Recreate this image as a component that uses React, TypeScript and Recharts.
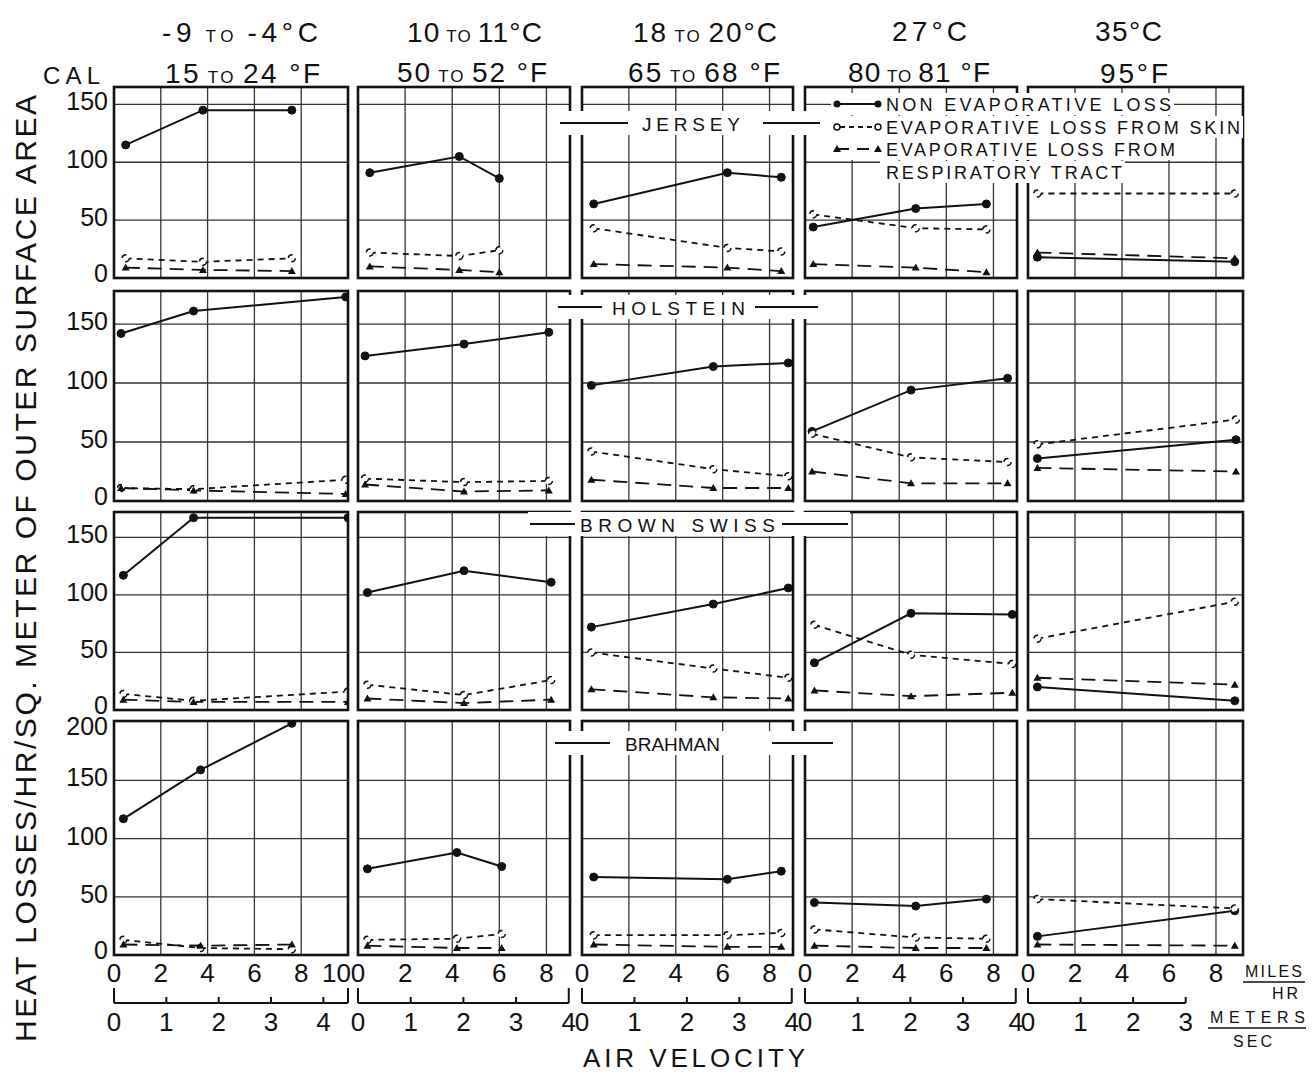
import React from "react";
import { LineChart, Line, XAxis, YAxis, CartesianGrid } from "recharts";

// column headers (temperature ranges)
const tempC = [["-9", "-4"], ["10", "11"], ["18", "20"], ["27"], ["35"]];
const tempF = [["15", "24"], ["50", "52"], ["65", "68"], ["80", "81"], ["95"]];

const breeds = ["JERSEY", "HOLSTEIN", "BROWN SWISS", "BRAHMAN"];

// air velocity (miles/hr) of each measurement, one list per temperature column
const jerseyVelocity = [[0.5, 3.8, 7.6], [0.5, 4.3, 6.0], [0.5, 6.2, 8.5], [0.35, 4.7, 7.7], [0.4, 8.8]];
const jerseyNonEvap = [[115, 145, 145], [91, 105, 86], [64, 91, 87], [44, 60, 64], [18, 14]];
const jerseySkin = [[17, 14, 17], [22, 19, 24], [43, 26, 23], [55, 43, 42], [73, 73]];
const jerseyResp = [[9, 7, 6], [10, 7, 5], [12, 9, 6], [12, 9, 5], [22, 17]];

const holsteinVelocity = [[0.3, 3.4, 9.9], [0.3, 4.5, 8.1], [0.4, 5.6, 8.8], [0.3, 4.5, 8.6], [0.4, 8.85]];
const holsteinNonEvap = [[142, 161, 173], [123, 133, 143], [98, 114, 117], [59, 94, 104], [36, 52]];
const holsteinSkin = [[11, 10, 18], [19, 16, 17], [42, 27, 21], [57, 37, 33], [48, 69]];
const holsteinResp = [[11, 9, 6], [14, 8, 9], [18, 11, 11], [25, 15, 15], [28, 25]];

const brownSwissVelocity = [[0.4, 3.4, 10], [0.4, 4.5, 8.2], [0.4, 5.6, 8.8], [0.4, 4.5, 8.8], [0.4, 8.8]];
const brownSwissNonEvap = [[117, 167, 167], [102, 121, 111], [72, 92, 106], [41, 84, 83], [20, 8]];
const brownSwissSkin = [[14, 8, 16], [22, 13, 26], [50, 36, 28], [74, 48, 40], [62, 94]];
const brownSwissResp = [[9, 7, 7], [10, 6, 9], [18, 11, 10], [17, 12, 15], [28, 22]];

const brahmanVelocity = [[0.4, 3.7, 7.6], [0.4, 4.2, 6.1], [0.5, 6.2, 8.5], [0.4, 4.7, 7.7], [0.4, 8.8]];
const brahmanNonEvap = [[117, 159, 199], [74, 88, 76], [67, 65, 72], [45, 42, 48], [16, 38]];
const brahmanSkin = [[13, 6, 5], [13, 14, 18], [17, 17, 19], [22, 15, 14], [48, 40]];
const brahmanResp = [[9, 8, 9], [8, 6, 6], [9, 7, 7], [8, 6, 6], [9, 8]];

// tick labels
const mphTicksWide = [0, 2, 4, 6, 8, 10];
const mphTicks = [0, 2, 4, 6, 8];
const msTicks = [[0, 1, 2, 3, 4, 4.47], [0, 1, 2, 3, 4], [0, 1, 2, 3, 4], [0, 1, 2, 3, 4], [0, 1, 2, 3]];
const yTicks = [0, 50, 100, 150];
const yTicksTall = [0, 50, 100, 150, 200];

const MS_PER_MPH = 0.44704;
const FONT = "'Liberation Sans', Arial, sans-serif";
const INK = "#111";

const series = [
  { v: jerseyVelocity, ne: jerseyNonEvap, sk: jerseySkin, rs: jerseyResp },
  { v: holsteinVelocity, ne: holsteinNonEvap, sk: holsteinSkin, rs: holsteinResp },
  { v: brownSwissVelocity, ne: brownSwissNonEvap, sk: brownSwissSkin, rs: brownSwissResp },
  { v: brahmanVelocity, ne: brahmanNonEvap, sk: brahmanSkin, rs: brahmanResp },
];

// plot boxes (page pixels)
const COLS = [
  { left: 114, width: 234, max: 10 },
  { left: 358, width: 212, max: 9 },
  { left: 582, width: 211, max: 9 },
  { left: 805, width: 212, max: 9 },
  { left: 1028, width: 215, max: 9.15 },
];
const ROWS = [
  { top: 87, height: 191, max: 165 },
  { top: 291, height: 210, max: 178 },
  { top: 512, height: 198, max: 172 },
  { top: 721, height: 234, max: 201 },
];

const PAD = 16;
const Y_AXIS_W = 60;
const MPH_AXIS_H = 48;
const MS_AXIS_H = 52;

const triangleDot = (p: any) => {
  if (p.cx == null || p.cy == null) return <g key={p.key} />;
  const { cx, cy } = p;
  return (
    <path
      key={p.key ?? `${cx}-${cy}`}
      d={`M${cx},${cy - 4} L${cx + 4},${cy + 3} L${cx - 4},${cy + 3} Z`}
      fill={INK}
    />
  );
};

function Panel({ row, col }: { row: number; col: number }) {
  const c = COLS[col];
  const r = ROWS[row];
  const s = series[row];
  const isLeft = col === 0;
  const isBottom = row === ROWS.length - 1;

  const data = s.v[col].map((v, i) => ({
    v,
    nonEvap: s.ne[col][i],
    skin: s.sk[col][i],
    resp: s.rs[col][i],
  }));

  const yW = isLeft ? Y_AXIS_W : 0;
  const xH = isBottom ? MPH_AXIS_H + MS_AXIS_H : 0;
  const msMax = c.max * MS_PER_MPH;
  const pxPerMs = c.width / msMax;
  const ms = msTicks[col];
  const capEnd = col < COLS.length - 1;

  const renderY = (p: any) => {
    const v = p.payload.value;
    return (
      <text x={p.x} y={p.y + (v === 200 ? 13 : v === 0 ? 4 : 6)} textAnchor="end" fontSize={25} fill={INK} fontFamily={FONT}>
        {v}
      </text>
    );
  };

  const renderMph = (p: any) => {
    const v = p.payload.value;
    const atEdge = v === 10;
    return (
      <text
        x={atEdge ? p.x + 3 : p.x}
        y={p.y + 27}
        textAnchor={atEdge ? "end" : "middle"}
        fontSize={26}
        fill={INK}
        fontFamily={FONT}
      >
        {v}
      </text>
    );
  };

  const renderMs = (p: any) => {
    const v = p.payload.value;
    const idx = ms.indexOf(v);
    const prev = idx > 0 ? ms[idx - 1] : v;
    const isLast = idx === ms.length - 1;
    const cap = v === 0 || (isLast && capEnd);
    const showLabel = Number.isInteger(v);
    return (
      <g>
        {idx > 0 && (
          <line x1={p.x - (v - prev) * pxPerMs} x2={p.x} y1={p.y} y2={p.y} stroke={INK} strokeWidth={2} />
        )}
        <line x1={p.x} x2={p.x} y1={p.y} y2={p.y - (cap ? 15 : 6)} stroke={INK} strokeWidth={2} />
        {showLabel && (
          <text x={p.x} y={p.y + 28} textAnchor="middle" fontSize={26} fill={INK} fontFamily={FONT}>
            {v}
          </text>
        )}
      </g>
    );
  };

  return (
    <div style={{ position: "absolute", left: c.left - yW - PAD, top: r.top - PAD }}>
      <LineChart
        width={c.width + yW + PAD * 2}
        height={r.height + xH + PAD * 2}
        data={data}
        margin={{ top: PAD, right: PAD, bottom: PAD, left: PAD }}
      >
        <CartesianGrid
          stroke="#333"
          strokeWidth={1.3}
          horizontalValues={[50, 100, 150]}
          verticalValues={[2, 4, 6, 8]}
        />
        {isBottom ? (
          <XAxis
            type="number"
            dataKey="v"
            domain={[0, c.max]}
            ticks={col === 0 ? mphTicksWide : mphTicks}
            interval={0}
            height={MPH_AXIS_H}
            tickLine={false}
            axisLine={false}
            tickSize={0}
            tickMargin={0}
            tick={renderMph}
            allowDataOverflow
          />
        ) : (
          <XAxis type="number" dataKey="v" domain={[0, c.max]} hide allowDataOverflow />
        )}
        {isBottom && (
          <XAxis
            xAxisId="ms"
            type="number"
            dataKey={(d: any) => d.v * MS_PER_MPH}
            domain={[0, msMax]}
            ticks={ms}
            interval={0}
            height={MS_AXIS_H}
            tickLine={false}
            axisLine={false}
            tickSize={0}
            tickMargin={0}
            tick={renderMs}
            allowDataOverflow
          />
        )}
        {isLeft ? (
          <YAxis
            type="number"
            domain={[0, r.max]}
            ticks={isBottom ? yTicksTall : yTicks}
            interval={0}
            width={Y_AXIS_W}
            tickLine={false}
            axisLine={false}
            tickSize={0}
            tickMargin={6}
            tick={renderY}
            allowDataOverflow
          />
        ) : (
          <YAxis type="number" domain={[0, r.max]} hide allowDataOverflow />
        )}
        <Line
          dataKey="nonEvap"
          stroke={INK}
          strokeWidth={2}
          dot={{ r: 4, fill: INK, stroke: INK, strokeWidth: 1 }}
          isAnimationActive={false}
        />
        <Line
          dataKey="skin"
          stroke={INK}
          strokeWidth={1.8}
          strokeDasharray="6 5"
          dot={{ r: 3.5, fill: "#fff", stroke: INK, strokeWidth: 1.5 }}
          isAnimationActive={false}
        />
        <Line
          dataKey="resp"
          stroke={INK}
          strokeWidth={1.8}
          strokeDasharray="14 8"
          dot={triangleDot}
          isAnimationActive={false}
        />
      </LineChart>
    </div>
  );
}

const headerC = [[162, 318, 42], [407, 542, 42], [633, 777, 42], [892, 967, 41], [1095, 1162, 41]];
const headerF = [[165, 320, 83], [397, 547, 82], [628, 780, 82], [848, 990, 82], [1100, 1168, 83]];

function tempLabel(parts: string[], unit: string, spaced: boolean) {
  if (parts.length === 2) {
    return (
      <>
        {parts[0]}
        <tspan fontSize={17}> TO </tspan>
        {parts[1]}
        {(spaced ? " °" : "°") + unit}
      </>
    );
  }
  return <>{parts[0] + "°" + unit}</>;
}

// breed label bands: [bandX0, bandX1, centerY, textX0, textX1, lineL0, lineL1, lineR0, lineR1]
const breedBands = [
  [558, 822, 123, 642, 740, 560, 628, 763, 820],
  [555, 820, 307, 612, 745, 558, 602, 755, 818],
  [528, 850, 524, 580, 775, 530, 575, 782, 848],
  [552, 835, 743, 625, 720, 555, 610, 772, 833],
];

const legendRows = [
  { text: "NON EVAPORATIVE LOSS", y: 104, end: 1171, kind: "solid" },
  { text: "EVAPORATIVE LOSS FROM SKIN", y: 127, end: 1240, kind: "skin" },
  { text: "EVAPORATIVE LOSS FROM", y: 149, end: 1175, kind: "resp" },
  { text: "RESPIRATORY TRACT", y: 172, end: 1122, kind: "none" },
];

function Overlay() {
  return (
    <svg
      width={1313}
      height={1074}
      style={{ position: "absolute", left: 0, top: 0, pointerEvents: "none" }}
      fontFamily={FONT}
      fill={INK}
    >
      {ROWS.map((r, ri) =>
        COLS.map((c, ci) => (
          <rect
            key={`f${ri}-${ci}`}
            x={c.left}
            y={r.top}
            width={c.width}
            height={r.height}
            fill="none"
            stroke={INK}
            strokeWidth={2.6}
          />
        ))
      )}

      {tempC.map((p, i) => (
        <text key={`c${i}`} x={headerC[i][0]} y={headerC[i][2]} fontSize={28} textLength={headerC[i][1] - headerC[i][0]} lengthAdjust="spacing">
          {tempLabel(p, "C", false)}
        </text>
      ))}
      {tempF.map((p, i) => (
        <text key={`f${i}`} x={headerF[i][0]} y={headerF[i][2]} fontSize={28} textLength={headerF[i][1] - headerF[i][0]} lengthAdjust="spacing">
          {tempLabel(p, "F", true)}
        </text>
      ))}

      <text x={43} y={84} fontSize={24} textLength={57} lengthAdjust="spacing">CAL</text>

      <text
        transform="translate(36,1042) rotate(-90)"
        fontSize={30}
        textLength={947}
        lengthAdjust="spacing"
      >
        HEAT LOSSES/HR/SQ. METER OF OUTER SURFACE AREA
      </text>

      <text x={583} y={1067} fontSize={26} textLength={222} lengthAdjust="spacing">AIR VELOCITY</text>

      <text x={1245} y={977} fontSize={16} textLength={57} lengthAdjust="spacing">MILES</text>
      <line x1={1243} x2={1305} y1={982} y2={982} stroke={INK} strokeWidth={1.5} />
      <text x={1272} y={999} fontSize={16} textLength={26} lengthAdjust="spacing">HR</text>
      <text x={1210} y={1023} fontSize={16} textLength={95} lengthAdjust="spacing">METERS</text>
      <line x1={1208} x2={1306} y1={1028} y2={1028} stroke={INK} strokeWidth={1.5} />
      <text x={1233} y={1047} fontSize={16} textLength={39} lengthAdjust="spacing">SEC</text>

      {breedBands.map((b, i) => (
        <g key={`b${i}`}>
          <rect x={b[0]} y={b[2] - 12} width={b[1] - b[0]} height={24} fill="#fff" />
          <line x1={b[5]} x2={b[6]} y1={b[2]} y2={b[2]} stroke={INK} strokeWidth={2} />
          <line x1={b[7]} x2={b[8]} y1={b[2]} y2={b[2]} stroke={INK} strokeWidth={2} />
          <text x={b[3]} y={b[2] + 8} fontSize={19} textLength={b[4] - b[3]} lengthAdjust="spacing">
            {breeds[i]}
          </text>
        </g>
      ))}

      {legendRows.map((l, i) => (
        <g key={`l${i}`}>
          <rect x={l.kind === "none" ? 880 : 831} y={l.y - 11} width={l.end - (l.kind === "none" ? 880 : 831) + 3} height={22} fill="#fff" />
          {l.kind === "solid" && (
            <>
              <line x1={837} x2={878} y1={l.y} y2={l.y} stroke={INK} strokeWidth={2} />
              <circle cx={837} cy={l.y} r={3.5} fill={INK} />
              <circle cx={878} cy={l.y} r={3.5} fill={INK} />
            </>
          )}
          {l.kind === "skin" && (
            <>
              <line x1={840} x2={875} y1={l.y} y2={l.y} stroke={INK} strokeWidth={1.8} strokeDasharray="5 4" />
              <circle cx={837} cy={l.y} r={3} fill="#fff" stroke={INK} strokeWidth={1.5} />
              <circle cx={878} cy={l.y} r={3} fill="#fff" stroke={INK} strokeWidth={1.5} />
            </>
          )}
          {l.kind === "resp" && (
            <>
              <line x1={837} x2={878} y1={l.y} y2={l.y} stroke={INK} strokeWidth={1.8} strokeDasharray="12 8" />
              <path d={`M837,${l.y - 4} L841,${l.y + 3} L833,${l.y + 3} Z`} fill={INK} />
              <path d={`M878,${l.y - 4} L882,${l.y + 3} L874,${l.y + 3} Z`} fill={INK} />
            </>
          )}
          <text x={886} y={l.y + 7} fontSize={18} textLength={l.end - 886} lengthAdjust="spacing">
            {l.text}
          </text>
        </g>
      ))}
    </svg>
  );
}

export default function App() {
  return (
    <div
      style={{
        position: "absolute",
        left: 0,
        top: 0,
        width: 1313,
        height: 1074,
        background: "#fff",
        fontFamily: FONT,
        overflow: "hidden",
      }}
    >
      {ROWS.map((_, ri) => COLS.map((_, ci) => <Panel key={`${ri}-${ci}`} row={ri} col={ci} />))}
      <Overlay />
    </div>
  );
}
